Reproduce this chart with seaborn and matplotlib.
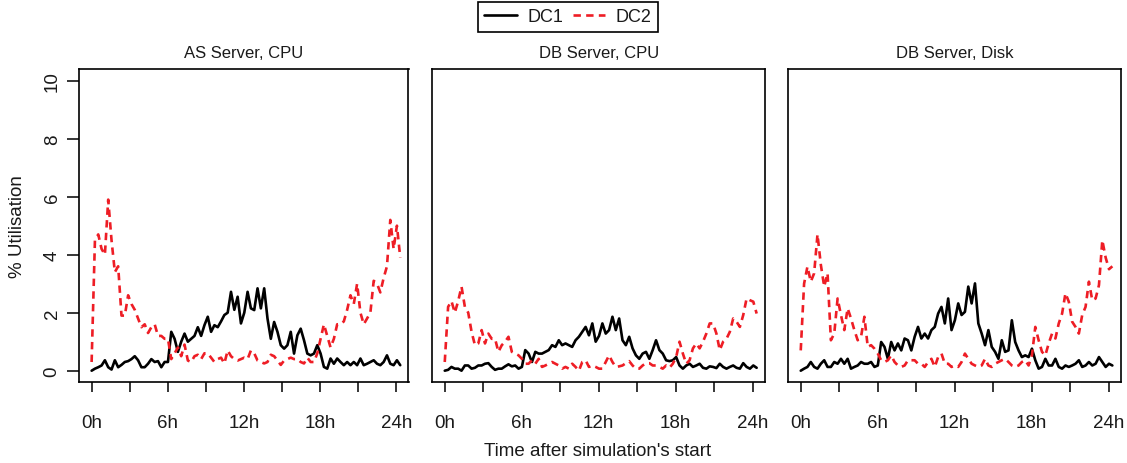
import numpy as np
import pandas as pd
import matplotlib
matplotlib.use("Agg")
import matplotlib.pyplot as plt
from matplotlib.lines import Line2D
import seaborn as sns

# ---------------- data ----------------
panel_titles = ["AS Server, CPU", "DB Server, CPU", "DB Server, Disk"]
series_names = ["DC1", "DC2"]
x_tick_hours = [0, 6, 12, 18, 24]
x_tick_labels = ["0h", "6h", "12h", "18h", "24h"]
x_minor_hours = [3, 9, 15, 21]
y_ticks = [0, 2, 4, 6, 8, 10]
n_samples = 94
hours = np.linspace(0, 24.3, n_samples)

as_cpu_dc1 = [0.0, 0.07, 0.12, 0.18, 0.36, 0.12, 0.04, 0.36, 0.12, 0.2,
              0.3, 0.33, 0.4, 0.5, 0.36, 0.12, 0.12, 0.24, 0.4, 0.3,
              0.33, 0.12, 0.3, 0.3, 1.34, 1.1, 0.65, 1.0, 1.28, 1.0,
              1.1, 1.2, 1.5, 1.2, 1.57, 1.86, 1.34, 1.57, 1.5, 1.7,
              1.92, 2.0, 2.72, 2.1, 2.55, 1.63, 2.0, 2.72, 2.15, 2.09,
              2.84, 2.15, 2.84, 1.8, 1.1, 1.68, 1.34, 0.88, 0.76, 0.88,
              1.34, 0.59, 1.22, 1.45, 1.05, 0.59, 0.53, 0.59, 0.88, 0.59,
              0.13, 0.07, 0.42, 0.24, 0.42, 0.3, 0.19, 0.3, 0.19, 0.3,
              0.19, 0.42, 0.19, 0.24, 0.3, 0.36, 0.24, 0.19, 0.3, 0.53,
              0.24, 0.19, 0.36, 0.19]
as_cpu_dc2 = [0.3, 4.5, 4.7, 4.2, 4.0, 5.9, 4.5, 3.4, 3.6, 1.9,
              1.9, 2.6, 2.3, 2.1, 1.8, 1.5, 1.6, 1.3, 1.5, 1.6,
              1.2, 1.2, 1.1, 1.1, 0.4, 0.6, 0.8, 0.5, 0.9, 0.35,
              0.3, 0.5, 0.55, 0.4, 0.6, 0.6, 0.45, 0.3, 0.4, 0.45,
              0.25, 0.7, 0.5, 0.4, 0.35, 0.4, 0.45, 0.4, 0.7, 0.6,
              0.35, 0.3, 0.25, 0.3, 0.55, 0.5, 0.35, 0.2, 0.35, 0.4,
              0.45, 0.4, 0.4, 0.3, 0.25, 0.45, 0.3, 0.3, 0.6, 1.1,
              1.6, 1.2, 0.8, 1.1, 1.6, 1.6, 1.7, 2.1, 2.6, 2.3,
              3.0, 2.0, 1.6, 1.8, 2.0, 3.1, 3.0, 2.7, 3.2, 3.6,
              5.2, 4.2, 5.0, 3.9]
db_cpu_dc1 = [0.0, 0.03, 0.13, 0.07, 0.07, 0.0, 0.18, 0.18, 0.07, 0.1,
              0.18, 0.18, 0.24, 0.26, 0.13, 0.03, 0.07, 0.07, 0.15, 0.22,
              0.15, 0.18, 0.07, 0.13, 0.71, 0.59, 0.3, 0.65, 0.59, 0.59,
              0.65, 0.71, 0.88, 0.82, 1.05, 0.88, 0.94, 0.88, 0.82, 1.05,
              1.17, 1.34, 1.51, 1.22, 1.63, 1.0, 1.2, 1.63, 1.28, 1.4,
              1.86, 1.4, 1.8, 1.05, 0.88, 1.17, 0.77, 0.53, 0.41, 0.59,
              0.65, 0.41, 0.71, 1.05, 0.71, 0.59, 0.36, 0.33, 0.36, 0.47,
              0.18, 0.07, 0.18, 0.24, 0.13, 0.18, 0.24, 0.1, 0.07, 0.15,
              0.13, 0.09, 0.24, 0.13, 0.07, 0.13, 0.18, 0.1, 0.07, 0.26,
              0.13, 0.07, 0.18, 0.1]
db_cpu_dc2 = [0.3, 2.2, 2.4, 2.0, 2.4, 2.9, 2.2, 2.0, 1.34, 0.88,
              0.94, 1.4, 0.94, 1.28, 1.1, 1.1, 0.65, 0.88, 1.0, 1.17,
              0.65, 0.59, 0.53, 0.41, 0.24, 0.24, 0.36, 0.24, 0.41, 0.13,
              0.18, 0.24, 0.3, 0.24, 0.18, 0.07, 0.13, 0.07, 0.24, 0.13,
              0.0, 0.3, 0.36, 0.13, 0.18, 0.13, 0.07, 0.07, 0.3, 0.53,
              0.3, 0.13, 0.15, 0.18, 0.26, 0.33, 0.18, 0.07, 0.07, 0.18,
              0.26, 0.26, 0.18, 0.18, 0.13, 0.07, 0.18, 0.1, 0.24, 0.47,
              1.0, 0.59, 0.24, 0.36, 0.77, 0.94, 0.77, 1.0, 1.28, 1.63,
              1.63, 1.28, 0.71, 1.0, 1.1, 1.34, 1.8, 1.69, 1.51, 1.92,
              2.49, 2.43, 2.38, 1.97]
db_disk_dc1 = [0.0, 0.07, 0.13, 0.3, 0.13, 0.07, 0.24, 0.36, 0.13, 0.13,
               0.3, 0.24, 0.41, 0.24, 0.41, 0.07, 0.13, 0.18, 0.3, 0.24,
               0.24, 0.3, 0.13, 0.18, 0.99, 0.82, 0.41, 0.99, 0.7, 0.94,
               0.7, 1.11, 1.05, 0.7, 1.17, 1.51, 1.11, 1.28, 1.11, 1.4,
               1.51, 1.97, 2.2, 1.63, 2.49, 1.4, 1.74, 2.32, 1.92, 2.03,
               2.9, 2.32, 3.01, 1.63, 1.28, 0.88, 1.4, 0.82, 0.65, 0.41,
               1.05, 0.65, 0.7, 1.74, 0.99, 0.7, 0.47, 0.53, 0.47, 0.76,
               0.36, 0.07, 0.13, 0.41, 0.18, 0.18, 0.41, 0.13, 0.07, 0.18,
               0.13, 0.18, 0.24, 0.36, 0.13, 0.18, 0.3, 0.18, 0.24, 0.47,
               0.3, 0.13, 0.24, 0.18]
db_disk_dc2 = [0.7, 3.0, 3.59, 3.07, 3.36, 4.7, 3.65, 2.9, 3.36, 1.05,
               1.28, 2.49, 1.92, 1.4, 2.15, 1.8, 1.4, 1.05, 1.17, 1.86,
               0.82, 0.88, 0.76, 0.59, 0.36, 0.3, 0.36, 0.53, 0.3, 0.18,
               0.13, 0.18, 0.36, 0.36, 0.36, 0.24, 0.24, 0.13, 0.3, 0.41,
               0.13, 0.47, 0.59, 0.24, 0.24, 0.13, 0.18, 0.13, 0.3, 0.59,
               0.41, 0.24, 0.18, 0.13, 0.18, 0.41, 0.18, 0.13, 0.24, 0.3,
               0.36, 0.41, 0.3, 0.18, 0.13, 0.18, 0.3, 0.36, 0.18, 0.53,
               1.51, 1.05, 0.65, 0.53, 0.94, 1.28, 1.11, 1.63, 1.97, 2.67,
               2.38, 1.69, 1.51, 1.28, 1.92, 2.2, 3.07, 2.43, 2.49, 2.95,
               4.5, 3.9, 3.5, 3.6]

panel_data = [(as_cpu_dc1, as_cpu_dc2), (db_cpu_dc1, db_cpu_dc2), (db_disk_dc1, db_disk_dc2)]

rows = []
for title, (s1, s2) in zip(panel_titles, panel_data):
    for name, vals in zip(series_names, (s1, s2)):
        for h, v in zip(hours, vals):
            rows.append({"panel": title, "dc": name, "hours": h, "util": v})
df = pd.DataFrame(rows)

# ---------------- style ----------------
sns.set_theme(style="white")
plt.rcParams["font.family"] = ["Liberation Sans", "DejaVu Sans"]
RED = "#EE1D25"
LW = 1.9
palette = {"DC1": "black", "DC2": RED}
dash_map = {"DC1": "", "DC2": (2.8, 2.0)}
TXT = "#1a1a1a"

W, H = 1127, 464
fig = plt.figure(figsize=(W / 100, H / 100), dpi=100)
fig.patch.set_facecolor("white")

frames = [(79.3, 408.5), (432.3, 765.0), (788.3, 1120.7)]
top_px, bot_px = 70.1, 383.3

for k, ((x0, x1), title) in enumerate(zip(frames, panel_titles)):
    ax = fig.add_axes([x0 / W, 1 - bot_px / H, (x1 - x0) / W, (bot_px - top_px) / H])
    sub = df[df["panel"] == title]
    sns.lineplot(data=sub, x="hours", y="util", hue="dc", style="dc",
                 palette=palette, dashes=dash_map, hue_order=series_names,
                 style_order=series_names, linewidth=LW, legend=False,
                 errorbar=None, ax=ax)
    ax.set_xlim(-0.97, 24.95)
    ax.set_ylim(-0.4, 10.4)
    ax.set_xticks(x_tick_hours)
    ax.set_xticklabels(x_tick_labels)
    ax.set_xticks(x_minor_hours, minor=True)
    ax.set_xlabel("")
    ax.set_ylabel("")
    for sp in ax.spines.values():
        sp.set_visible(True)
        sp.set_color("black")
        sp.set_linewidth(1.2)
    ax.tick_params(axis="x", which="both", direction="out", length=7.5, width=1.1,
                   color="black", bottom=True, top=False, labelsize=13.5, pad=15,
                   labelcolor=TXT)
    if k == 0:
        ax.set_yticks(y_ticks)
        ax.set_yticklabels([str(v) for v in y_ticks], rotation=90, va="center",
                           ha="center")
        ax.tick_params(axis="y", which="both", direction="out", length=8.5,
                       width=1.1, color="black", left=True, right=False,
                       labelsize=13.5, pad=11, labelcolor=TXT)
    else:
        ax.set_yticks([])
        ax.tick_params(axis="y", left=False, labelleft=False)
    ax.text(0.5, 1 + 17 / (bot_px - top_px), title, transform=ax.transAxes,
            ha="center", va="center", fontsize=12, color=TXT)

fig.text(598 / W, 1 - 452 / H, "Time after simulation's start", ha="center",
         va="center", fontsize=13.5, color=TXT)
fig.text(18 / W, 1 - 227 / H, "% Utilisation", ha="center", va="center",
         rotation=90, fontsize=13.5, color=TXT)

handles = [Line2D([], [], color="black", lw=LW),
           Line2D([], [], color=RED, lw=LW, dashes=(2.8, 2.0))]
leg = fig.legend(handles, series_names, loc="upper center",
                 bbox_to_anchor=(568 / W, 1 - 3 / H), ncol=2, frameon=True,
                 fancybox=False, edgecolor="black", framealpha=1,
                 fontsize=13, handlelength=1.8, handletextpad=0.6,
                 columnspacing=0.5, borderpad=0.35, borderaxespad=0)
leg.get_frame().set_linewidth(1.2)
for t in leg.get_texts():
    t.set_color(TXT)

fig.savefig("out.png", dpi=100, facecolor="white")
